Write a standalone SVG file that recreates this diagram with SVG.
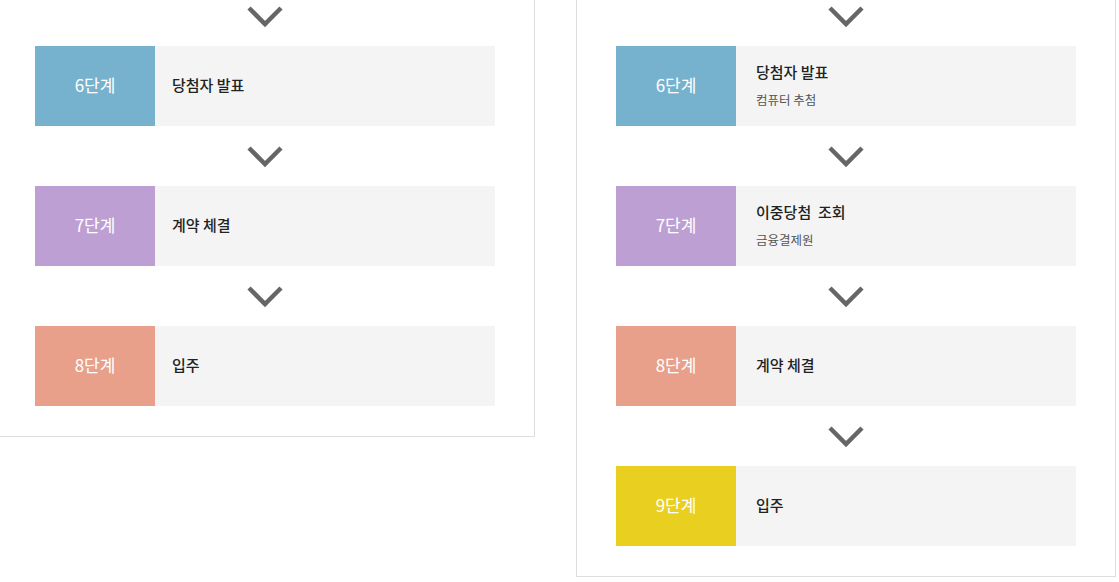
<svg xmlns="http://www.w3.org/2000/svg" width="1119" height="582" viewBox="0 0 1119 582">
<style>
.panel{fill:#fff;stroke:#dddddd;stroke-width:1}
.body{fill:#f4f4f4}
.chev{fill:none;stroke:#666;stroke-width:4.5}
.step{font-family:"Noto Sans CJK KR","Noto Sans",sans-serif;font-size:17px;fill:#fff;text-anchor:middle}
.title{font-family:"Noto Sans CJK KR","Noto Sans",sans-serif;font-size:15px;font-weight:500;fill:#222}
.sub{font-family:"Noto Sans CJK KR","Noto Sans",sans-serif;font-size:12.5px;fill:#555}
.c6{fill:#76b2cd}.c7{fill:#bd9fd3}.c8{fill:#e9a08b}.c9{fill:#e9d020}
</style>
<rect class="panel" x="-10" y="-10" width="544.5" height="446.5"/>
<rect class="panel" x="576.5" y="-10" width="539" height="586.5"/>
<g id="connectors">
<path class="chev" d="M249,8 L265,24 L281,8"/>
<path class="chev" d="M249,148 L265,164 L281,148"/>
<path class="chev" d="M249,288 L265,304 L281,288"/>
<path class="chev" d="M830,8 L846,24 L862,8"/>
<path class="chev" d="M830,148 L846,164 L862,148"/>
<path class="chev" d="M830,288 L846,304 L862,288"/>
<path class="chev" d="M830,428 L846,444 L862,428"/>
</g>
<g id="l6"><rect class="c6" x="35" y="46" width="120" height="80"/><rect class="body" x="155" y="46" width="340" height="80"/><text class="step" x="95" y="92">6단계</text><text class="title" x="172" y="91">당첨자 발표</text></g>
<g id="l7"><rect class="c7" x="35" y="186" width="120" height="80"/><rect class="body" x="155" y="186" width="340" height="80"/><text class="step" x="95" y="232">7단계</text><text class="title" x="172" y="231">계약 체결</text></g>
<g id="l8"><rect class="c8" x="35" y="326" width="120" height="80"/><rect class="body" x="155" y="326" width="340" height="80"/><text class="step" x="95" y="372">8단계</text><text class="title" x="172" y="371">입주</text></g>
<g id="r6"><rect class="c6" x="616" y="46" width="120" height="80"/><rect class="body" x="736" y="46" width="340" height="80"/><text class="step" x="676" y="92">6단계</text><text class="title" x="756" y="78">당첨자 발표</text><text class="sub" x="756" y="105">컴퓨터 추첨</text></g>
<g id="r7"><rect class="c7" x="616" y="186" width="120" height="80"/><rect class="body" x="736" y="186" width="340" height="80"/><text class="step" x="676" y="232">7단계</text><text class="title" x="756" y="218" xml:space="preserve">이중당첨  조회</text><text class="sub" x="756" y="245">금융결제원</text></g>
<g id="r8"><rect class="c8" x="616" y="326" width="120" height="80"/><rect class="body" x="736" y="326" width="340" height="80"/><text class="step" x="676" y="372">8단계</text><text class="title" x="756" y="371">계약 체결</text></g>
<g id="r9"><rect class="c9" x="616" y="466" width="120" height="80"/><rect class="body" x="736" y="466" width="340" height="80"/><text class="step" x="676" y="512">9단계</text><text class="title" x="756" y="511">입주</text></g>
</svg>
